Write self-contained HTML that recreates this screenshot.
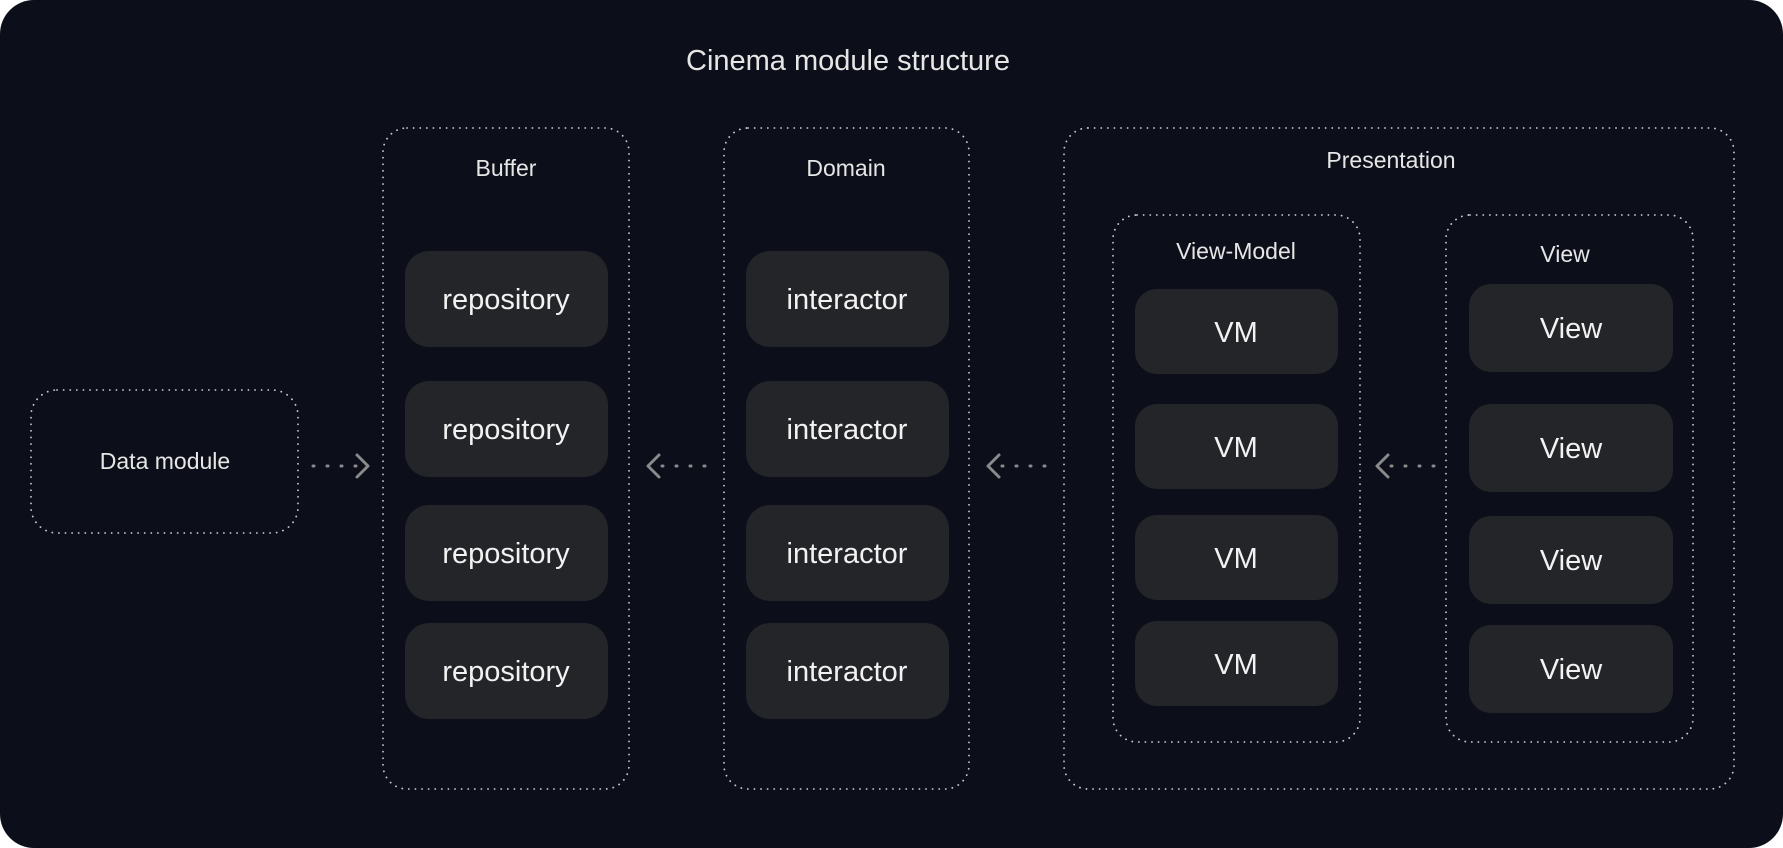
<!DOCTYPE html>
<html><head><style>
html,body{margin:0;padding:0;background:#fff;}
svg{display:block}
text{font-family:"Liberation Sans",sans-serif;}
</style></head><body>
<svg width="1783" height="848" viewBox="0 0 1783 848" xmlns="http://www.w3.org/2000/svg">
<rect x="0" y="0" width="1783" height="848" rx="34" fill="#0c0f1a"/>
<text x="848" y="70" text-anchor="middle" fill="#e6e6e6" font-size="29" font-weight="300">Cinema module structure</text>
<g fill="none" stroke="#c8c8c8" stroke-width="1.8" stroke-dasharray="0.1 6.5" stroke-linecap="round">
<rect x="31" y="390" width="267" height="143" rx="26"/>
<rect x="383" y="128" width="246" height="661" rx="24"/>
<rect x="724" y="128" width="245" height="661" rx="24"/>
<rect x="1064" y="128" width="670" height="661" rx="24"/>
<rect x="1113" y="215" width="247" height="527" rx="24"/>
<rect x="1446" y="215" width="247" height="527" rx="24"/>
</g>
<g fill="#e6e6e6" font-size="23" text-anchor="middle" font-weight="300">
<text x="165" y="469">Data module</text>
<text x="506" y="176">Buffer</text>
<text x="846" y="176">Domain</text>
<text x="1391" y="168">Presentation</text>
<text x="1236" y="259">View-Model</text>
<text x="1565" y="262">View</text>
</g>
<g fill="#242529">
<rect x="405" y="251" width="203" height="96" rx="24"/>
<rect x="405" y="381" width="203" height="96" rx="24"/>
<rect x="405" y="505" width="203" height="96" rx="24"/>
<rect x="405" y="623" width="203" height="96" rx="24"/>
<rect x="746" y="251" width="203" height="96" rx="24"/>
<rect x="746" y="381" width="203" height="96" rx="24"/>
<rect x="746" y="505" width="203" height="96" rx="24"/>
<rect x="746" y="623" width="203" height="96" rx="24"/>
<rect x="1135" y="289" width="203" height="85" rx="22"/>
<rect x="1135" y="404" width="203" height="85" rx="22"/>
<rect x="1135" y="515" width="203" height="85" rx="22"/>
<rect x="1135" y="621" width="203" height="85" rx="22"/>
<rect x="1469" y="284" width="204" height="88" rx="22"/>
<rect x="1469" y="404" width="204" height="88" rx="22"/>
<rect x="1469" y="516" width="204" height="88" rx="22"/>
<rect x="1469" y="625" width="204" height="88" rx="22"/>
</g>
<g fill="#f2f2f2" font-size="29" text-anchor="middle">
<text x="506" y="309">repository</text>
<text x="506" y="439">repository</text>
<text x="506" y="563">repository</text>
<text x="506" y="681">repository</text>
<text x="847" y="309">interactor</text>
<text x="847" y="439">interactor</text>
<text x="847" y="563">interactor</text>
<text x="847" y="681">interactor</text>
<text x="1236" y="342">VM</text>
<text x="1236" y="457">VM</text>
<text x="1236" y="568">VM</text>
<text x="1236" y="674">VM</text>
<text x="1571" y="338">View</text>
<text x="1571" y="458">View</text>
<text x="1571" y="570">View</text>
<text x="1571" y="679">View</text>
</g>
<g stroke="#8a8a8a" stroke-width="3" fill="none" stroke-linecap="round" stroke-linejoin="round">
<path d="M313 466 L360 466" stroke-dasharray="1 13"/>
<path d="M357 455 L368 466 L357 477"/>
<path d="M662 466 L705 466" stroke-dasharray="1 13"/>
<path d="M659 455 L648 466 L659 477"/>
<path d="M1002 466 L1045 466" stroke-dasharray="1 13"/>
<path d="M999 455 L988 466 L999 477"/>
<path d="M1391 466 L1435 466" stroke-dasharray="1 13"/>
<path d="M1388 455 L1377 466 L1388 477"/>
</g>
</svg>
</body></html>
